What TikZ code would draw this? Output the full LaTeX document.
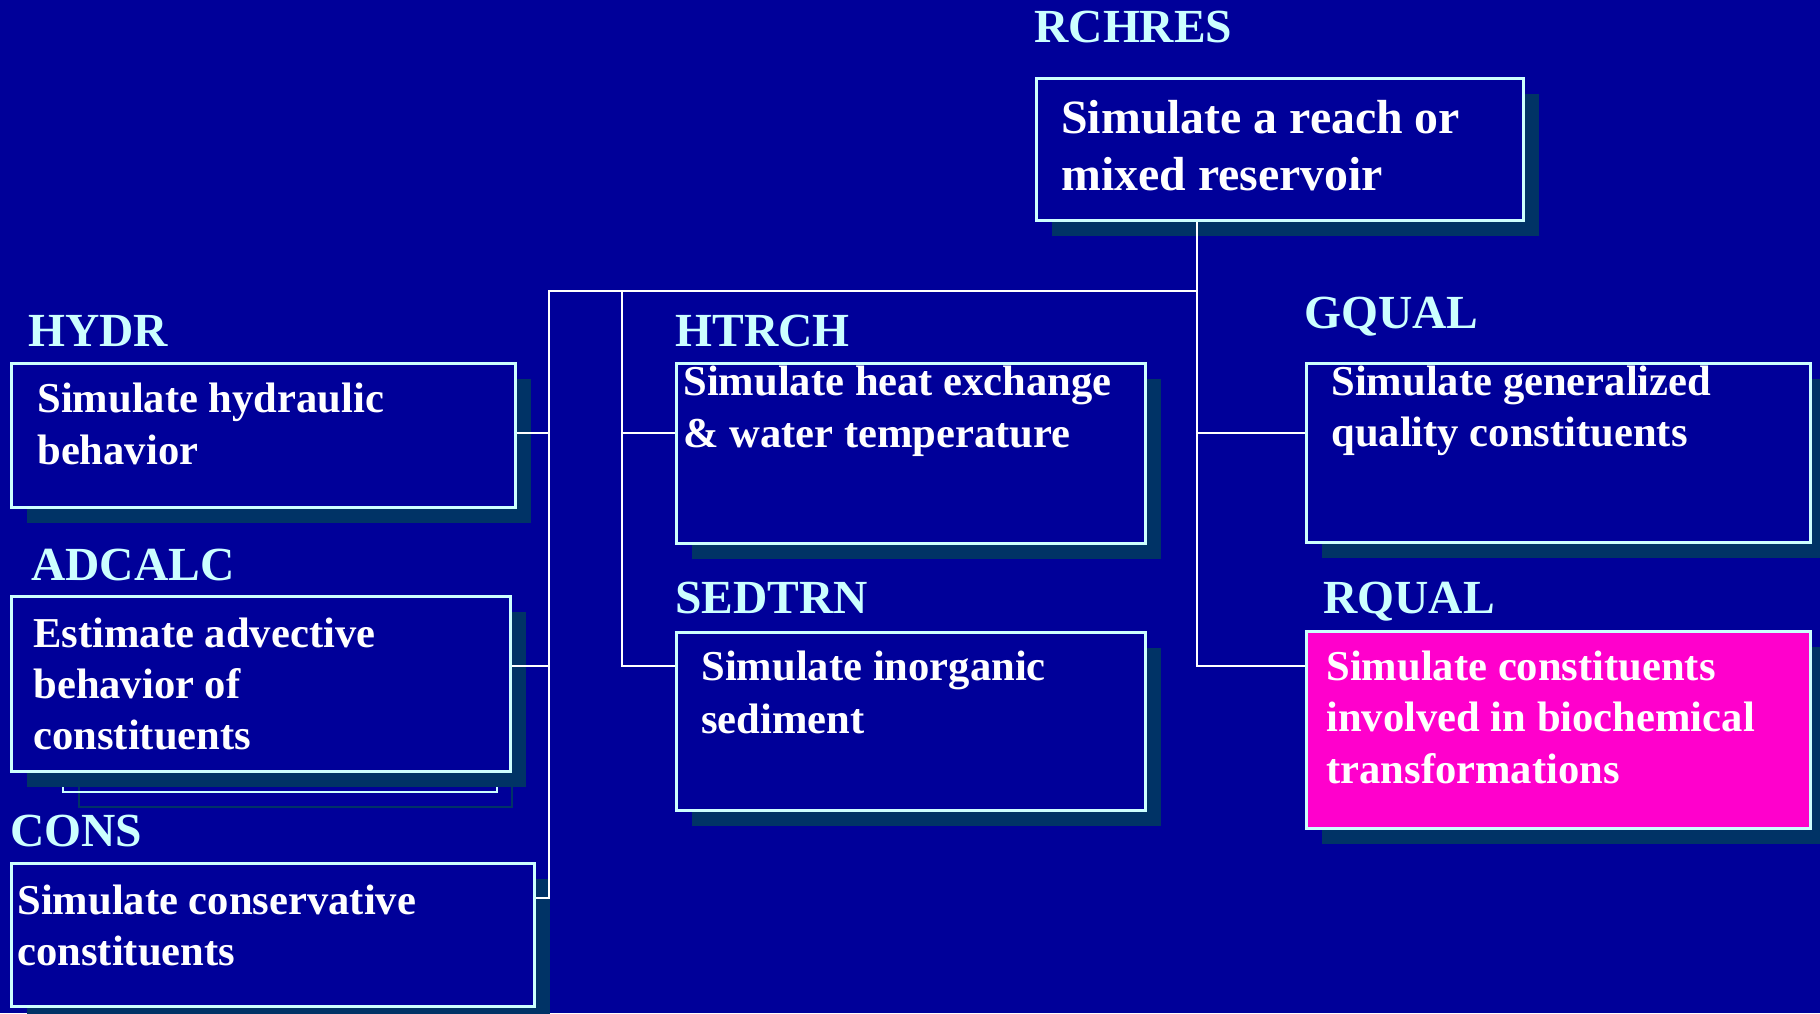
\documentclass[tikz,border=0pt]{standalone}
\usepackage{fontspec}
\setmainfont{Liberation Serif}
\usetikzlibrary{shadows}
\definecolor{slideblue}{HTML}{000099}
\definecolor{shadowblue}{HTML}{003366}
\definecolor{paleblue}{HTML}{CCFFFF}
\definecolor{hotpink}{HTML}{FF00CC}
\tikzstyle{modbox}=
[
	rectangle
	, anchor=north west
	, inner sep=0pt
	, draw=paleblue
	, line width=1.25pt
	, fill=slideblue
	, drop shadow={shadow xshift=8pt, shadow yshift=-8pt, fill=shadowblue, opacity=1}
]
\tikzstyle{hotbox}=[modbox, fill=hotpink]
\tikzstyle{modtext}=
[
	anchor=base west
	, inner sep=0pt
	, text width=260pt
	, align=left
	, execute at begin node={\spaceskip=0.25em\relax}
	, text=white
	, font=\fontsize{21.3pt}{26pt}\selectfont\bfseries
]
\tikzstyle{modlabel}=
[
	anchor=base west
	, inner sep=0pt
	, text=paleblue
	, font=\fontsize{23.75pt}{28pt}\selectfont\bfseries
]
\tikzstyle{conn} = [white, line width=1pt]

\begin{document}
\begin{tikzpicture}[x=0.5pt, y=-0.5pt]

\useasboundingbox (0,0) rectangle (1820,1013);
\fill[slideblue] (0,0) rectangle (1820,1013);

% leftover frame behind ADCALC
\draw[shadowblue, line width=1.25pt] (79,716) rectangle (512,807);
\draw[paleblue, line width=1.25pt] (63,700) rectangle (497,792);

\node(rchres)[modbox, minimum width=243.5pt, minimum height=71pt] at (1035,77) {};
\node(hydr)[modbox, minimum width=252pt, minimum height=72pt] at (10,362) {};
\node(adcalc)[modbox, minimum width=249.5pt, minimum height=87.5pt] at (10,595) {};
\node(cons)[modbox, minimum width=261.5pt, minimum height=71.5pt] at (10,862) {};
\node(htrch)[modbox, minimum width=234.5pt, minimum height=90pt] at (675,362) {};
\node(sedtrn)[modbox, minimum width=234.5pt, minimum height=89pt] at (675,631) {};
\node(gqual)[modbox, minimum width=252pt, minimum height=89.5pt] at (1305,362) {};
\node(rqual)[hotbox, minimum width=252pt, minimum height=98.5pt] at (1305,630) {};

\node(rchres-lbl)[modlabel] at (1034,42) {RCHRES};
\node(hydr-lbl)[modlabel] at (28,346) {HYDR};
\node(adcalc-lbl)[modlabel] at (31,580) {ADCALC};
\node(cons-lbl)[modlabel] at (10,846) {CONS};
\node(htrch-lbl)[modlabel] at (675,346) {HTRCH};
\node(sedtrn-lbl)[modlabel] at (675,613) {SEDTRN};
\node(gqual-lbl)[modlabel] at (1304,328) {GQUAL};
\node(rqual-lbl)[modlabel] at (1323,613) {RQUAL};

\node(rchres-txt)[modtext, font=\fontsize{23.9pt}{28.5pt}\selectfont\bfseries] at (1061,133) {Simulate a reach or\\mixed reservoir};
\node(hydr-txt)[modtext] at (37,412) {Simulate hydraulic\\behavior};
\node(adcalc-txt)[modtext, font=\fontsize{21.3pt}{25.5pt}\selectfont\bfseries] at (33,647) {Estimate advective\\behavior of\\constituents};
\node(cons-txt)[modtext, font=\fontsize{21.3pt}{25.5pt}\selectfont\bfseries] at (17,914) {Simulate conservative\\constituents};
\node(htrch-txt)[modtext] at (683,395) {Simulate heat exchange\\\& water temperature};
\node(sedtrn-txt)[modtext, font=\fontsize{21.3pt}{26.5pt}\selectfont\bfseries] at (701,680) {Simulate inorganic\\sediment};
\node(gqual-txt)[modtext, font=\fontsize{21.3pt}{25.5pt}\selectfont\bfseries] at (1331,395) {Simulate generalized\\quality constituents};
\node(rqual-txt)[modtext, font=\fontsize{21.3pt}{25.75pt}\selectfont\bfseries] at (1326,680) {Simulate constituents\\involved in biochemical\\transformations};

\coordinate(hub) at (1197,291);
\coordinate(lbus) at (549,291);
\coordinate(mbus) at (622,291);
\coordinate(row1) at (0,433);
\coordinate(row2) at (0,666);
\coordinate(row3) at (0,898);

\draw[conn](rchres.south -| hub)--(hub)--(lbus)--(lbus |- row3)--(cons.east |- row3);
\draw[conn](hydr.east |- row1)--(lbus |- row1);
\draw[conn](adcalc.east |- row2)--(lbus |- row2);
\draw[conn](mbus)--(mbus |- row2)--(sedtrn.west |- row2);
\draw[conn](mbus |- row1)--(htrch.west |- row1);
\draw[conn](hub)--(hub |- row2)--(rqual.west |- row2);
\draw[conn](hub |- row1)--(gqual.west |- row1);

\end{tikzpicture}
\end{document}
